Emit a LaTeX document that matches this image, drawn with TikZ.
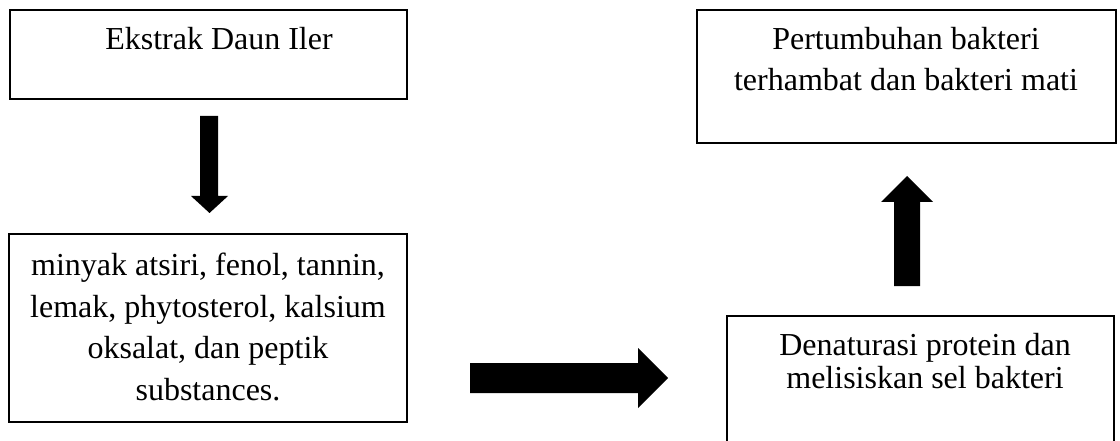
\documentclass[tikz,border=0pt]{standalone}
\usepackage{fontspec}
\setmainfont{Liberation Serif}
\begin{document}
\begin{tikzpicture}[x=1pt,y=-1pt,
  box/.style={draw=black,line width=1.6pt,rectangle,inner sep=0pt},
  txt/.style={align=center,inner sep=0pt,anchor=base,font=\fontsize{32}{41.5}\selectfont},
  blockarrow/.style={fill=black,draw=none}]
\useasboundingbox (0,0) rectangle (1120,441);
\clip (0,0) rectangle (1120,441);
% boxes
\node[box,minimum width=397pt,minimum height=89pt] (ekstrak) at (208.5,54.5) {};
\node[box,minimum width=398pt,minimum height=188pt] (kandungan) at (208,328) {};
\node[box,minimum width=387pt,minimum height=160pt] (denaturasi) at (920.5,396) {};
\node[box,minimum width=419pt,minimum height=133pt] (pertumbuhan) at (906.5,76.5) {};
% texts (anchored at the baseline of the last line)
\node[txt] (t1) at (219,50) {Ekstrak Daun Iler};
\node[txt] (t2) at (208,400) {minyak atsiri, fenol, tannin,\\lemak, phytosterol, kalsium\\oksalat, dan peptik\\substances.};
\node[txt,font=\fontsize{32}{33}\selectfont] (t3) at (925,388) {Denaturasi protein dan\\melisiskan sel bakteri};
\node[txt,font=\fontsize{32}{41}\selectfont] (t4) at (906,91) {Pertumbuhan bakteri\\terhambat dan bakteri mati};
% block arrows
\fill[blockarrow] (200,116) -- (218,116) -- (218,196) -- (228,196) -- (209.5,213) -- (191,196) -- (200,196) -- cycle;
\fill[blockarrow] (470,363) -- (638,363) -- (638,348) -- (668,378) -- (638,408) -- (638,393) -- (470,393) -- cycle;
\fill[blockarrow] (894,286) -- (920,286) -- (920,202) -- (933,202) -- (907,176) -- (881,202) -- (894,202) -- cycle;
\end{tikzpicture}
\end{document}
